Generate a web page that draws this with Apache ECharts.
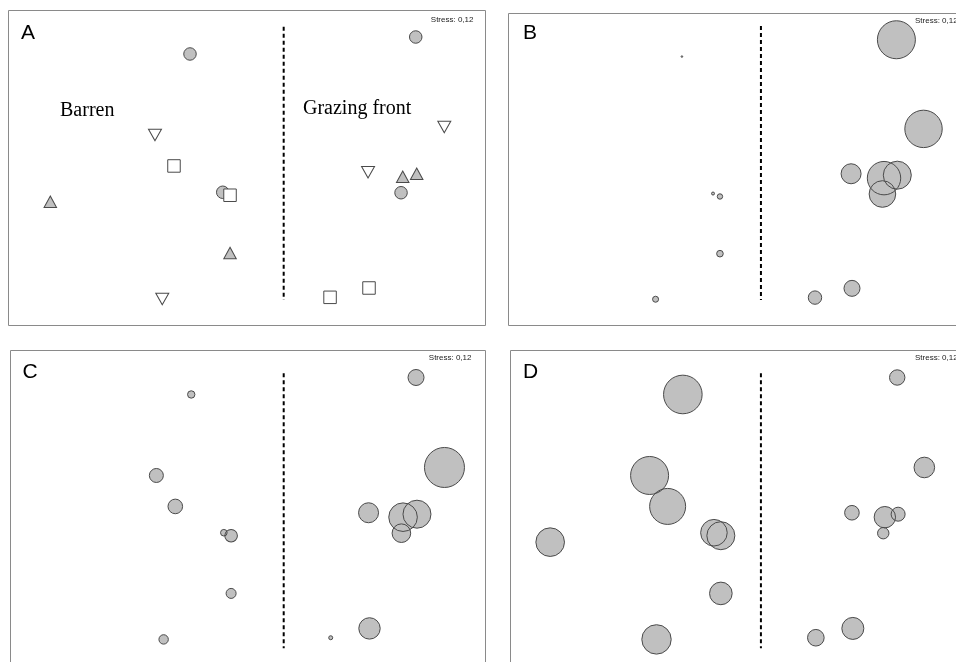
<!DOCTYPE html>
<html>
<head>
<meta charset="utf-8">
<script src="https://cdn.jsdelivr.net/npm/echarts@6/dist/echarts.min.js"></script>
<style>
html,body{margin:0;padding:0;background:#fff;}
#chart{width:956px;height:662px;}
</style>
</head>
<body>
<div id="chart"></div>
<script>
// nMDS ordination coordinates of the 16 samples (same configuration in every panel)
const nmdsX = [-0.477, -0.770, -0.611, -0.203, -0.142, -1.646, -0.142, -0.709, 1.412, 1.651, 1.013, 1.303, 1.420, 1.289, 0.695, 1.021];
const nmdsY = [0.954, 0.276, 0.017, -0.203, -0.228, -0.282, -0.711, -1.096, 1.096, 0.343, -0.036, -0.073, -0.048, -0.207, -1.082, -1.004];
// group of each sample in panel A (0 circle, 1 down-triangle, 2 square, 3 triangle)
const sampleGroup = [0, 1, 2, 0, 2, 3, 3, 1, 0, 1, 1, 3, 3, 0, 2, 2];
const groupNames = ['Group 1', 'Group 2', 'Group 3', 'Group 4'];
// bubble values (abundance) for panels B, C, D
const valuesB = [0.8, 0, 0, 1.5, 2.7, 0, 3.3, 3.0, 19.0, 18.7, 10.0, 16.7, 14.0, 13.3, 6.7, 8.0];
const valuesC = [3.7, 7.0, 7.3, 3.3, 6.3, 0, 5.0, 4.7, 8.0, 20.0, 10.0, 14.3, 14.0, 9.3, 2.0, 10.7];
const valuesD = [19.3, 19.0, 18.0, 13.3, 14.0, 14.3, 11.3, 14.7, 7.7, 10.3, 7.3, 10.7, 7.0, 5.7, 8.3, 11.0];
// divider lines (x, yTop, yBottom) in ordination units
const dividerA = [0.307, 1.182, -1.105];
const dividerB = [0.219, 1.212, -1.102];
const dividerC = [0.300, 1.131, -1.170];
const dividerD = [0.211, 1.131, -1.170];
const panelLetters = ['A', 'B', 'C', 'D'];
const stressLabel = 'Stress: 0,12';
const zoneLabels = ['Barren', 'Grazing front'];

const FILL = '#c0c0c0';
const STROKE = '#4a4a4a';
const FRAME = '#8a8a8a';

// plotting areas (B and D are cut by the right edge, C and D by the bottom edge)
const grids = [
  {left: 8, top: 10, width: 478, height: 316, x: [-2, 2], y: [-1.322, 1.322]},
  {left: 509, top: 13, width: 447, height: 313, x: [-2, 1.937], y: [-1.322, 1.322]},
  {left: 10, top: 350.5, width: 476, height: 311.5, x: [-2, 2], y: [-1.285, 1.322]},
  {left: 510, top: 350.5, width: 446, height: 311.5, x: [-2, 1.93], y: [-1.285, 1.322]}
];
const xAxes = grids.map((g, i) => ({gridIndex: i, type: 'value', min: g.x[0], max: g.x[1], show: false, splitLine: {show: false}}));
const yAxes = grids.map((g, i) => ({gridIndex: i, type: 'value', min: g.y[0], max: g.y[1], show: false, splitLine: {show: false}}));

const series = [];
// Panel A: symbols by group
const symDefs = [
  {sym: 'circle', rot: 0, fill: FILL, size: 12.5},
  {sym: 'triangle', rot: 180, fill: '#ffffff', size: [13, 11.5]},
  {sym: 'rect', rot: 0, fill: '#ffffff', size: 12.5},
  {sym: 'triangle', rot: 0, fill: FILL, size: [12.5, 11.5]}
];
[0, 3, 1, 2].forEach(gi => {
  const d = symDefs[gi];
  const pts = [];
  nmdsX.forEach((x, k) => { if (sampleGroup[k] === gi) pts.push([x, nmdsY[k]]); });
  series.push({
    type: 'scatter', name: groupNames[gi], xAxisIndex: 0, yAxisIndex: 0,
    symbol: d.sym, symbolRotate: d.rot, symbolSize: d.size, silent: true,
    itemStyle: {color: d.fill, borderColor: STROKE, borderWidth: 1, opacity: 1},
    data: pts
  });
});
// Panels B, C, D: bubbles (fills first, then outlines on top)
[valuesB, valuesC, valuesD].forEach((vals, j) => {
  const idx = j + 1;
  const pts = [];
  nmdsX.forEach((x, k) => { if (vals[k] > 0) pts.push([x, nmdsY[k], vals[k]]); });
  series.push({
    type: 'scatter', xAxisIndex: idx, yAxisIndex: idx, silent: true,
    symbolSize: v => Math.max(v[2] * 2, 1.2),
    itemStyle: {color: FILL, borderWidth: 0, opacity: 1},
    data: pts
  });
  series.push({
    type: 'scatter', xAxisIndex: idx, yAxisIndex: idx, silent: true,
    symbolSize: v => Math.max(v[2] * 2, 1.2),
    itemStyle: {color: 'rgba(0,0,0,0)', borderColor: STROKE, borderWidth: 1, opacity: 1},
    data: pts
  });
});
// divider dashed lines
[dividerA, dividerB, dividerC, dividerD].forEach((dv, i) => {
  series.push({
    type: 'line', xAxisIndex: i, yAxisIndex: i, silent: true, symbol: 'none',
    lineStyle: {color: '#000', width: 2, type: [4, 3]},
    data: [[dv[0], dv[1]], [dv[0], dv[2]]]
  });
});

const graphic = [];
// panel frames
const frames = [
  [[8.5, 10.5], [485.5, 10.5], [485.5, 325.5], [8.5, 325.5], [8.5, 10.5]],
  [[960, 13.5], [508.5, 13.5], [508.5, 325.5], [960, 325.5]],
  [[10.5, 670], [10.5, 350.5], [485.5, 350.5], [485.5, 670]],
  [[510.5, 670], [510.5, 350.5], [960, 350.5]]
];
frames.forEach(pts => {
  graphic.push({type: 'polyline', silent: true, z: 50, shape: {points: pts}, style: {stroke: FRAME, lineWidth: 1, fill: null}});
});
const letterPos = [[21, 33.5], [523, 33.5], [22.5, 372.5], [523, 372.5]];
const stressPos = [[473.5, 19.5, 'right'], [915, 20.5, 'left'], [471.5, 358, 'right'], [915, 358, 'left']];
panelLetters.forEach((L, i) => {
  graphic.push({type: 'text', z: 100, silent: true,
    style: {text: L, x: letterPos[i][0], y: letterPos[i][1], fill: '#000', font: '21px "Liberation Sans", Arial, sans-serif', verticalAlign: 'middle', align: 'left'}});
  const sp = stressPos[i];
  graphic.push({type: 'text', z: 100, silent: true,
    style: {text: stressLabel, x: sp[0], y: sp[1], fill: '#222', font: '8px "Liberation Sans", Arial, sans-serif', verticalAlign: 'middle', align: sp[2]}});
});
graphic.push({type: 'text', z: 100, silent: true,
  style: {text: zoneLabels[0], x: 60, y: 111, fill: '#000', font: '20px "Liberation Serif", "Times New Roman", serif', verticalAlign: 'middle', align: 'left'}});
graphic.push({type: 'text', z: 100, silent: true,
  style: {text: zoneLabels[1], x: 303, y: 108.5, fill: '#000', font: '20px "Liberation Serif", "Times New Roman", serif', verticalAlign: 'middle', align: 'left'}});

const chart = echarts.init(document.getElementById('chart'), null, {renderer: 'canvas'});
chart.setOption({
  backgroundColor: '#ffffff',
  animation: false,
  grid: grids.map(g => ({show: false, left: g.left, top: g.top, width: g.width, height: g.height, containLabel: false})),
  xAxis: xAxes,
  yAxis: yAxes,
  series: series,
  graphic: graphic
});
</script>
</body>
</html>
